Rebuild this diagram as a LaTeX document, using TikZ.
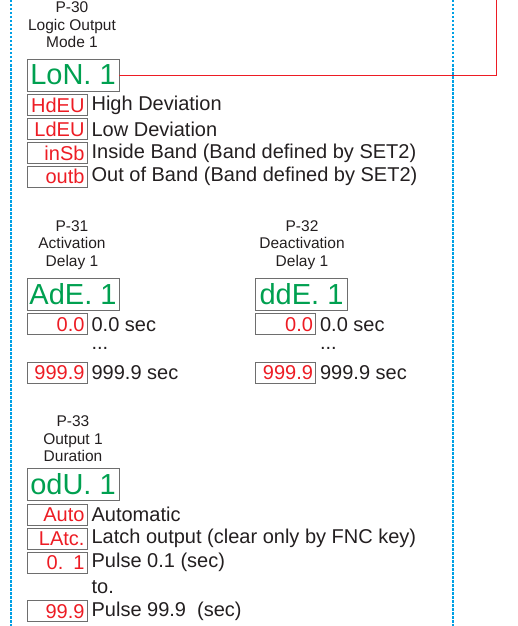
\documentclass[tikz,border=0pt]{standalone}
\usepackage{fontspec}
\setmainfont{Liberation Sans}
\usetikzlibrary{calc,positioning}

\definecolor{segred}{RGB}{237,28,36}
\definecolor{seggreen}{RGB}{0,160,80}
\definecolor{framegray}{RGB}{110,110,110}
\definecolor{guideblue}{RGB}{0,160,228}
\definecolor{inkgray}{RGB}{35,31,32}

\tikzset{
  header/.style={align=center, text=inkgray, inner sep=0pt,
    font=\fontsize{15.5}{17.5}\selectfont},
  greenbox/.style={draw=framegray, line width=0.8pt, minimum width=92pt,
    minimum height=32pt, inner sep=0pt, text=seggreen,
    font=\fontsize{29}{29}\selectfont},
  redbox/.style={draw=framegray, line width=0.8pt, minimum width=60pt,
    minimum height=21pt, text width=55pt, inner xsep=2.5pt, inner ysep=0pt,
    align=right, text=segred, font=\fontsize{20}{20}\selectfont},
  optlabel/.style={text=inkgray, inner sep=0pt,
    font=\fontsize{20}{23}\selectfont},
  guide/.style={guideblue, line width=2.5pt, dash pattern=on 2.5pt off 1.5pt},
  link/.style={segred, line width=1pt}
}

\begin{document}
\begin{tikzpicture}[x=1pt, y=-1pt]
    \useasboundingbox (0,0) rectangle (518,626);

    % P-30
    \node (p30) [header] at (72,25) {P-30\\Logic Output\\Mode 1};
    \node (lon) [greenbox] at (73,75) {LoN. 1};
    \node (hdeu) [redbox, below=3pt of lon.south west, anchor=north west] {HdEU};
    \node (ldeu) [redbox, below=2pt of hdeu] {LdEU};
    \node (insb) [redbox, below=2pt of ldeu] {inSb};
    \node (outb) [redbox, below=2pt of insb] {outb};

    \node (hdeu-t) [optlabel, right=4pt of hdeu] {High Deviation};
    \node (ldeu-t) [optlabel, right=4pt of ldeu] {Low Deviation};
    \node (insb-t) [optlabel, right=4pt of insb] {Inside Band (Band defined by SET2)};
    \node (outb-t) [optlabel, right=4pt of outb] {Out of Band (Band defined by SET2)};

    \coordinate (lon-up) at (496,0);
    \draw [link] (lon.east) -| (lon-up);

    % P-31
    \node (p31) [header] at (72,245) {P-31\\Activation\\Delay 1};
    \node (ade) [greenbox] at (73,294) {AdE. 1};
    \node (ade-min) [redbox, below=3pt of ade.south west, anchor=north west] {0.0};
    \node (ade-max) [redbox, below=27pt of ade-min] {999.9};
    \node (ade-min-t) [optlabel, right=4pt of ade-min] {0.0 sec};
    \node (ade-max-t) [optlabel, right=4pt of ade-max] {999.9 sec};
    \node (ade-dots) [optlabel, anchor=west] at ($(ade-min-t.west)!0.5!(ade-max-t.west)$) {...};

    % P-32
    \node (p32) [header] at (302,245) {P-32\\Deactivation\\Delay 1};
    \node (dde) [greenbox] at (301.5,294) {ddE. 1};
    \node (dde-min) [redbox, below=3pt of dde.south west, anchor=north west] {0.0};
    \node (dde-max) [redbox, below=27pt of dde-min] {999.9};
    \node (dde-min-t) [optlabel, right=4pt of dde-min] {0.0 sec};
    \node (dde-max-t) [optlabel, right=4pt of dde-max] {999.9 sec};
    \node (dde-dots) [optlabel, anchor=west] at ($(dde-min-t.west)!0.5!(dde-max-t.west)$) {...};

    % P-33
    \node (p33) [header] at (73,439) {P-33\\Output 1\\Duration};
    \node (odu) [greenbox] at (73,484.5) {odU. 1};
    \node (auto) [redbox, below=3pt of odu.south west, anchor=north west] {Auto};
    \node (latc) [redbox, below=2pt of auto] {LAtc.};
    \node (pmin) [redbox, below=2pt of latc] {0. 1};
    \node (pmax) [redbox, below=27pt of pmin] {99.9};

    \node (auto-t) [optlabel, right=4pt of auto] {Automatic};
    \node (latc-t) [optlabel, right=4pt of latc] {Latch output (clear only by FNC key)};
    \node (pmin-t) [optlabel, right=4pt of pmin] {Pulse 0.1 (sec)};
    \node (pmax-t) [optlabel, right=4pt of pmax] {Pulse 99.9 \ (sec)};
    \node (pto) [optlabel, anchor=west] at ($(pmin-t.west)!0.5!(pmax-t.west)$) {to.};

    % dotted guide lines
    \draw [guide] (11,0) -- (11,626);
    \draw [guide] (453,0) -- (453,626);
\end{tikzpicture}
\end{document}
